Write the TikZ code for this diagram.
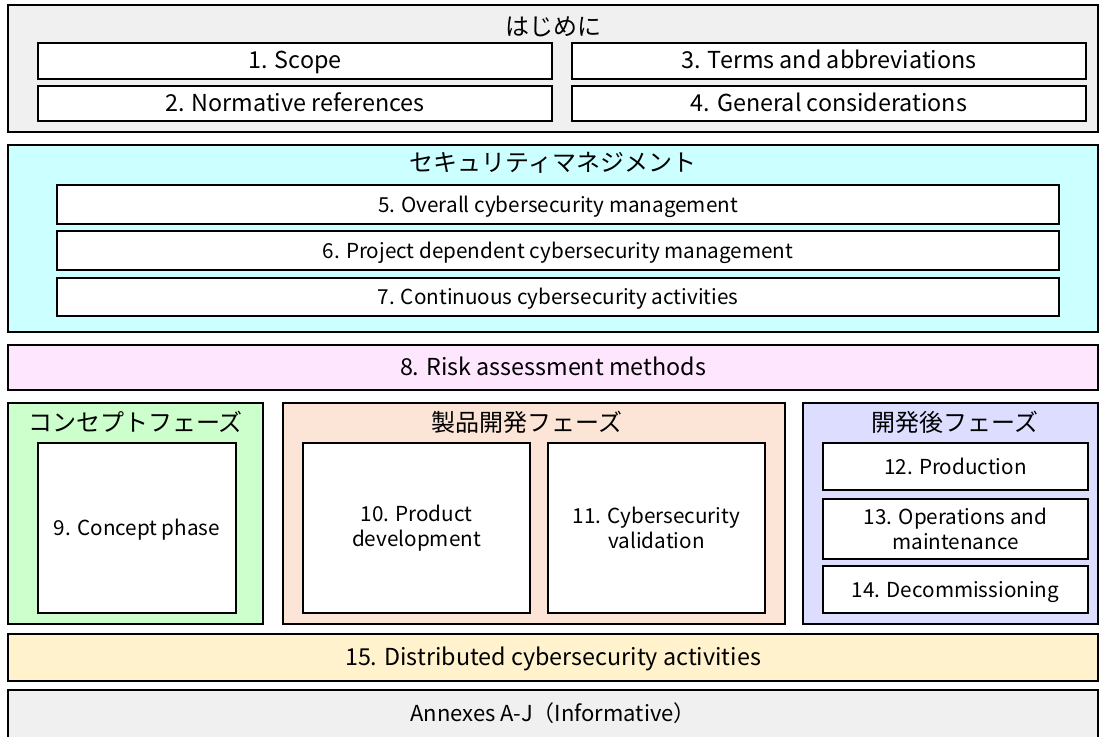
\documentclass[tikz,border=0pt]{standalone}
\usepackage{fontspec}
\setmainfont{Noto Sans CJK JP}
\newcommand{\pxu}{0.75pt}
\definecolor{graybg}{HTML}{F0F0F0}
\definecolor{cyanbg}{HTML}{CCFFFF}
\definecolor{pinkbg}{HTML}{FFE6FF}
\definecolor{greenbg}{HTML}{CCFFCC}
\definecolor{peachbg}{HTML}{FCE4D6}
\definecolor{lavbg}{HTML}{DDDDFF}
\definecolor{yellowbg}{HTML}{FFF2CC}
\tikzset{
  group/.style={rectangle, draw, line width=1.3pt, inner sep=0pt},
  block/.style={rectangle, draw, fill=white, line width=1.5pt, inner sep=0pt, align=center,
    font=\fontsize{15.5pt}{19pt}\selectfont},
  clause/.style={block, text height=1.15em, text depth=0em},
  bigclause/.style={clause, font=\fontsize{17.5pt}{21pt}\selectfont},
  title/.style={inner sep=0pt, font=\fontsize{18pt}{21pt}\selectfont},
}
\begin{document}
\begin{tikzpicture}[x=\pxu, y=-\pxu]
    \useasboundingbox (0,0) rectangle (1102,736);

    % introduction
    \node[group, fill=graybg, minimum width=1090*\pxu, minimum height=127*\pxu] at (553,68.5) (intro) {};
    \node[title] at (553,27) (intro_t) {はじめに};
    \node[bigclause, minimum width=514*\pxu, minimum height=36*\pxu] at (295,61)    (c1) {1. Scope};
    \node[bigclause, minimum width=514*\pxu, minimum height=35*\pxu] at (295,103.5) (c2) {2. Normative references};
    \node[bigclause, minimum width=514*\pxu, minimum height=36*\pxu] at (829,61)    (c3) {3. Terms and abbreviations};
    \node[bigclause, minimum width=514*\pxu, minimum height=35*\pxu] at (829,103.5) (c4) {4. General considerations};

    % management
    \node[group, fill=cyanbg, minimum width=1090*\pxu, minimum height=187*\pxu] at (553,238.5) (mgmt) {};
    \node[title] at (553,163) (mgmt_t) {セキュリティマネジメント};
    \node[clause, minimum width=1002*\pxu, minimum height=39*\pxu] at (558,204.5) (c5) {5. Overall cybersecurity management};
    \node[clause, minimum width=1002*\pxu, minimum height=39*\pxu] at (558,250.5) (c6) {6. Project dependent cybersecurity management};
    \node[clause, minimum width=1002*\pxu, minimum height=38*\pxu] at (558,297)   (c7) {7. Continuous cybersecurity activities};

    \node[bigclause, fill=pinkbg, line width=1.3pt, minimum width=1090*\pxu, minimum height=45*\pxu] at (553,367.5) (c8) {8. Risk assessment methods};

    % concept
    \node[group, fill=greenbg, minimum width=255*\pxu, minimum height=221*\pxu] at (135.5,513.5) (concept) {};
    \node[title] at (135.5,422) (concept_t) {コンセプトフェーズ};
    \node[clause, minimum width=198*\pxu, minimum height=170*\pxu] at (137,528) (c9) {9. Concept phase};

    % product development
    \node[group, fill=peachbg, minimum width=502*\pxu, minimum height=221*\pxu] at (534,513.5) (devel) {};
    \node[title] at (527,422) (devel_t) {製品開発フェーズ};
    \node[block, minimum width=227*\pxu, minimum height=170*\pxu] at (416.5,528) (c10) {10. Product\\development};
    \node[block, minimum width=217*\pxu, minimum height=170*\pxu] at (656.5,528) (c11) {11. Cybersecurity\\validation};

    % post-development
    \node[group, fill=lavbg, minimum width=295*\pxu, minimum height=221*\pxu] at (950.5,513.5) (post) {};
    \node[title] at (955,422) (post_t) {開発後フェーズ};
    \node[clause, minimum width=265*\pxu, minimum height=47*\pxu] at (955.5,466.5) (c12) {12. Production};
    \node[block,  minimum width=265*\pxu, minimum height=60*\pxu] at (955.5,529)   (c13) {13. Operations and\\maintenance};
    \node[clause, minimum width=265*\pxu, minimum height=47*\pxu] at (955.5,589.5) (c14) {14. Decommissioning};

    \node[bigclause, fill=yellowbg, line width=1.3pt, minimum width=1090*\pxu, minimum height=47*\pxu] at (553,657.5) (c15) {15. Distributed cybersecurity activities};
    \node[group, fill=graybg, minimum width=1090*\pxu, minimum height=56*\pxu] at (553,718) (annex) {};
    \node[title, font=\fontsize{16.5pt}{20pt}\selectfont] at (553,713) (annex_t) {Annexes A-J（Informative）};
\end{tikzpicture}
\end{document}
